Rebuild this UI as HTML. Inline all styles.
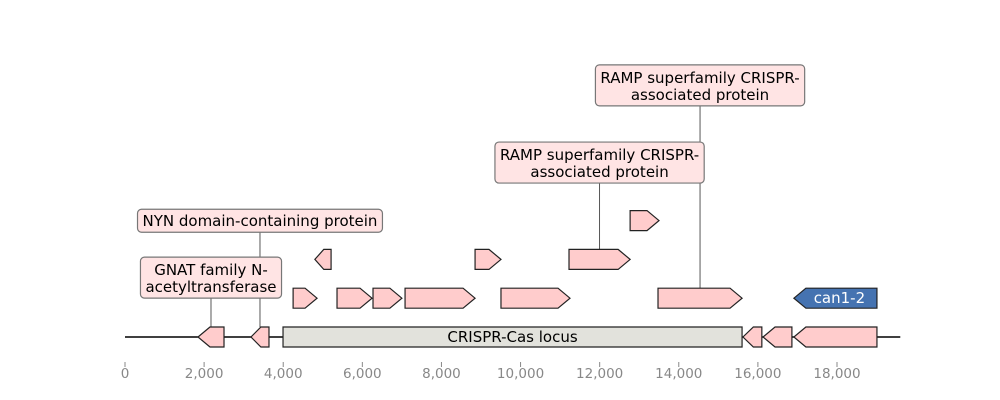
<!DOCTYPE html>
<html><head><meta charset="utf-8"><style>
html,body{margin:0;padding:0;background:#fff;}
svg{display:block;font-family:"DejaVu Sans","Liberation Sans",sans-serif;}
</style></head><body>
<svg id="chart" width="1000" height="400" viewBox="0 0 1000 400" xmlns="http://www.w3.org/2000/svg"></svg>
<script>
// Feature data (bp)
const featStart = [1845, 3185, 3995, 15623, 16130, 16910, 4250, 5360, 6270, 7080, 9505, 13475, 16910, 4800, 8850, 11225, 12770];
const featEnd   = [2503, 3640, 15600, 16100, 16860, 19010, 4855, 6245, 7000, 8850, 11250, 15600, 19010, 5210, 9505, 12770, 13500];
const featStrand= [-1, -1, 0, -1, -1, -1, 1, 1, 1, 1, 1, 1, -1, -1, 1, 1, 1];
const featRow   = [0, 0, 0, 0, 0, 0, 1, 1, 1, 1, 1, 1, 1, 2, 2, 2, 3];
const featLabel = ["", "", "CRISPR-Cas locus", "", "", "", "", "", "", "", "", "", "can1-2", "", "", "", ""];
const featKind  = ["gene","gene","locus","gene","gene","gene","gene","gene","gene","gene","gene","gene","blue","gene","gene","gene","gene"];
// Annotations: feature index, text lines, label level
const annFeature = [0, 1, 15, 11];
const annText = [["GNAT family N-","acetyltransferase"],["NYN domain-containing protein"],["RAMP superfamily CRISPR-","associated protein"],["RAMP superfamily CRISPR-","associated protein"]];
const annLevel = [1.51, 2.98, 4.46, 6.44];
const tickValues = [0, 2000, 4000, 6000, 8000, 10000, 12000, 14000, 16000, 18000];
const tickLabels = ["0","2,000","4,000","6,000","8,000","10,000","12,000","14,000","16,000","18,000"];
const seqLength = 19600;

const svg = document.getElementById('chart');
const NS = 'http://www.w3.org/2000/svg';
const X0 = 125, SCALE = 712/18000;
const xs = v => X0 + v*SCALE;
const rowY = r => 337 - r*38.8;
const levelY = l => 337 - l*39;
function mk(tag, attrs, parent){const e=document.createElementNS(NS,tag);for(const k in attrs)e.setAttribute(k,attrs[k]);(parent||svg).appendChild(e);return e;}

const bl = mk('line',{x1:xs(0),x2:xs(seqLength),y1:337,y2:337,stroke:'#000','stroke-width':1.6});



annFeature.forEach((fi,i)=>{
  const cx = xs((featStart[fi]+featEnd[fi])/2);
  const ly = levelY(annLevel[i]);
  const l = mk('line',{x1:cx,x2:cx,y1:ly,y2:rowY(featRow[fi])-10,stroke:'#444','stroke-width':0.9});
  
  
});

featStart.forEach((s,i)=>{
  const a = xs(s), b = xs(featEnd[i]), y = rowY(featRow[i]), h = 10;
  const w = b - a;
  const head = Math.min(12, w*0.55);
  let pts;
  if (featStrand[i] === 1) pts = [[a,y-h],[b-head,y-h],[b,y],[b-head,y+h],[a,y+h]];
  else if (featStrand[i] === -1) pts = [[b,y-h],[a+head,y-h],[a,y],[a+head,y+h],[b,y+h]];
  else pts = [[a,y-h],[b,y-h],[b,y+h],[a,y+h]];
  const fill = featKind[i]==='locus' ? '#e2e2dc' : featKind[i]==='blue' ? '#4573b1' : '#ffcccc';
  const p = mk('polygon',{points:pts.map(q=>q.join(',')).join(' '),fill:fill,stroke:'#222','stroke-width':1.2});
  
  
  if (featLabel[i]) {
    const t = mk('text',{x:(a+b)/2 + (featStrand[i]===-1?4:0),y:y+5,'text-anchor':'middle','font-size':15,fill:featKind[i]==='blue'?'#fff':'#000'});
    t.textContent = featLabel[i];
    
    
  }
});

annFeature.forEach((fi,i)=>{
  const cx = xs((featStart[fi]+featEnd[fi])/2);
  const ly = levelY(annLevel[i]);
  const lines = annText[i];
  const g = mk('g',{});
  
  
  const texts = lines.map((ln,k)=>{
    const t = mk('text',{x:cx,y:ly + (lines.length===2 ? (k===0?-3:14) : 5),'text-anchor':'middle','font-size':15,fill:'#000'},g);
    t.textContent = ln; return t;
  });
  let wmax = 0; texts.forEach(t=>{wmax=Math.max(wmax,t.getComputedTextLength());});
  const hh = lines.length===2 ? 20 : 11.5;
  const r = mk('rect',{x:cx-wmax/2-5,y:ly-hh-(lines.length===2?1:0),width:wmax+10,height:2*hh+(lines.length===2?1:0),rx:4,fill:'#ffe4e4',stroke:'#777','stroke-width':1.2},g);
  g.insertBefore(r,g.firstChild);
});

tickValues.forEach((v,i)=>{
  const x = xs(v);
  const t = mk('line',{x1:x,x2:x,y1:362,y2:367,stroke:'#888','stroke-width':1});
  
  
  const lb = mk('text',{x:x,y:378,'text-anchor':'middle','font-size':13.5,fill:'#888'});
  lb.textContent = tickLabels[i];
  
  
});
</script>
</body></html>
